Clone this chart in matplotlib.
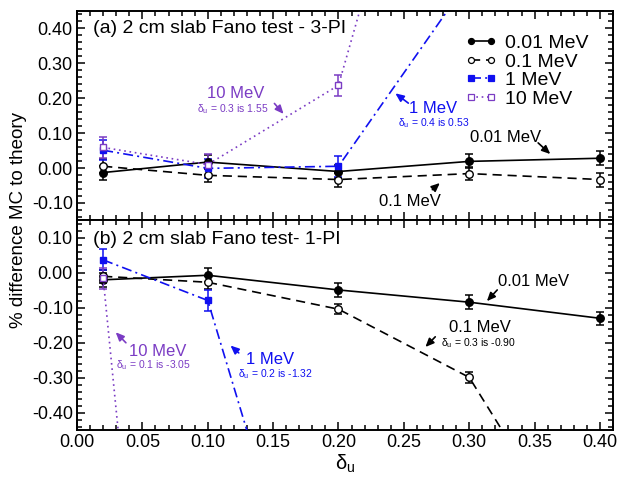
import matplotlib
matplotlib.use("Agg")
import matplotlib.pyplot as plt
from matplotlib.lines import Line2D
from matplotlib.ticker import MultipleLocator, FormatStrFormatter

plt.rcParams['font.family'] = ['Liberation Sans', 'DejaVu Sans']
plt.rcParams['mathtext.fontset'] = 'custom'
plt.rcParams['mathtext.rm'] = 'Liberation Sans'
plt.rcParams['mathtext.it'] = 'Liberation Sans'

# ---- data -------------------------------------------------------------
delta_u = [0.02, 0.10, 0.20, 0.30, 0.40]
energy_labels = ["0.01 MeV", "0.1 MeV", "1 MeV", "10 MeV"]

# (a) 3-PI
pi3_001 = [-0.013, 0.017, -0.010, 0.019, 0.028]
pi3_001_err = [0.020, 0.020, 0.020, 0.020, 0.020]
pi3_01 = [0.005, -0.021, -0.033, -0.016, -0.033]
pi3_01_err = [0.020, 0.020, 0.020, 0.018, 0.020]
pi3_1 = [0.051, -0.001, 0.005, 0.54, 0.53]
pi3_1_err = [0.028, 0.028, 0.030, 0.030, 0.030]
pi3_10_x = [0.02, 0.10, 0.20, 0.30]
pi3_10 = [0.059, 0.010, 0.237, 1.55]
pi3_10_err = [0.030, 0.030, 0.030, 0.030]

# (b) 1-PI
pi1_001 = [-0.020, -0.007, -0.049, -0.084, -0.130]
pi1_001_err = [0.020, 0.020, 0.020, 0.020, 0.018]
pi1_01 = [-0.010, -0.027, -0.104, -0.299, -0.90]
pi1_01_err = [0.018, 0.018, 0.015, 0.015, 0.015]
pi1_1_x = [0.02, 0.10, 0.20]
pi1_1 = [0.037, -0.079, -1.32]
pi1_1_err = [0.030, 0.030, 0.030]
pi1_10_x = [0.02, 0.10]
pi1_10 = [-0.015, -3.05]
pi1_10_err = [0.030, 0.030]

BLUE = '#1010f0'
PURPLE = '#7b3cc4'

styles = [
    dict(color='black', ls='-', marker='o', mfc='black', ms=5.4),
    dict(color='black', ls=(0, (5.5, 3.5)), marker='o', mfc='white', ms=5.4),
    dict(color=BLUE, ls=(0, (6, 2.5, 1.2, 2.5)), marker='s', mfc=BLUE, ms=4.6),
    dict(color=PURPLE, ls=(0, (1, 2.2)), marker='s', mfc='white', ms=4.4),
]

fig = plt.figure(figsize=(6.19, 4.78), dpi=100)
ax_a = fig.add_axes([0.1244, 0.539, 0.866, 0.438])
ax_b = fig.add_axes([0.1244, 0.100, 0.866, 0.439])


def draw_series(ax, x, y, err, st):
    ax.errorbar(x, y, yerr=err, fmt='none', ecolor=st['color'], elinewidth=1.1,
                capsize=3, capthick=1.1, zorder=2)
    ax.plot(x, y, color=st['color'], ls=st['ls'], lw=1.2, marker=st['marker'],
            mfc=st['mfc'], mec=st['color'], mew=1.0, ms=st['ms'], zorder=3)


series_a = [(delta_u, pi3_001, pi3_001_err), (delta_u, pi3_01, pi3_01_err),
            (delta_u, pi3_1, pi3_1_err), (pi3_10_x, pi3_10, pi3_10_err)]
series_b = [(delta_u, pi1_001, pi1_001_err), (delta_u, pi1_01, pi1_01_err),
            (pi1_1_x, pi1_1, pi1_1_err), (pi1_10_x, pi1_10, pi1_10_err)]

for (x, y, e), st in zip(series_a, styles):
    draw_series(ax_a, x, y, e, st)
for (x, y, e), st in zip(series_b, styles):
    draw_series(ax_b, x, y, e, st)

ax_a.set_ylim(-0.15, 0.45)
ax_b.set_ylim(-0.45, 0.15)

for ax in (ax_a, ax_b):
    ax.set_xlim(0.0, 0.41)
    ax.xaxis.set_major_locator(MultipleLocator(0.05))
    ax.xaxis.set_minor_locator(MultipleLocator(0.01))
    ax.yaxis.set_major_locator(MultipleLocator(0.10))
    ax.yaxis.set_minor_locator(MultipleLocator(0.02))
    ax.yaxis.set_major_formatter(FormatStrFormatter('%.2f'))
    ax.xaxis.set_major_formatter(FormatStrFormatter('%.2f'))
    ax.tick_params(which='both', direction='in', top=True, right=True,
                   labelsize=13, width=1.1, pad=3)
    ax.tick_params(which='major', length=6)
    ax.tick_params(which='minor', length=3.5)
    for sp in ax.spines.values():
        sp.set_linewidth(1.4)

ax_a.tick_params(labelbottom=False)
ax_a.set_yticks([-0.1, 0.0, 0.1, 0.2, 0.3, 0.4])
ax_b.set_yticks([-0.4, -0.3, -0.2, -0.1, 0.0, 0.1])

# panel titles
ax_a.text(0.012, 0.40, "(a) 2 cm slab Fano test - 3-PI", fontsize=14,
          ha='left', va='center')
ax_b.text(0.012, 0.094, "(b) 2 cm slab Fano test- 1-PI", fontsize=14,
          ha='left', va='center')

# legend
handles = [Line2D([], [], color=st['color'], ls=st['ls'], lw=1.2,
                  marker=st['marker'], mfc=st['mfc'], mec=st['color'],
                  ms=4.3, mew=0.9) for st in styles]
ax_a.legend(handles, energy_labels, loc='upper left',
            bbox_to_anchor=(0.725, 0.888), frameon=False, fontsize=14,
            numpoints=2, handlelength=1.6, handletextpad=0.4,
            labelspacing=0.05, borderpad=0, borderaxespad=0)

arrow_kw = dict(arrowstyle='-|>,head_length=0.5,head_width=0.22', lw=1.2,
                shrinkA=0, shrinkB=0)


def note(ax, text, xy, sub, sub_xy, color, tail, tip):
    ax.text(*xy, text, fontsize=12, color=color, ha='center', va='center')
    if sub:
        ax.text(*sub_xy, sub, fontsize=7.5, color=color, ha='center',
                va='center')
    ax.annotate('', xy=tip, xytext=tail,
                arrowprops=dict(color=color, **arrow_kw))


# (a) annotations
note(ax_a, "10 MeV", (0.121, 0.214), r"δ$_\mathrm{u}$ = 0.3 is 1.55",
     (0.119, 0.168), PURPLE, (0.151, 0.185), (0.158, 0.155))
note(ax_a, "1 MeV", (0.2725, 0.171), r"δ$_\mathrm{u}$ = 0.4 is 0.53",
     (0.2725, 0.128), BLUE, (0.2534, 0.186), (0.2435, 0.214))
note(ax_a, "0.01 MeV", (0.3275, 0.087), None, None, 'black',
     (0.3527, 0.072), (0.3620, 0.040))
note(ax_a, "0.1 MeV", (0.255, -0.096), None, None, 'black',
     (0.2718, -0.062), (0.2775, -0.043))

# (b) annotations
note(ax_b, "10 MeV", (0.0618, -0.226), r"δ$_\mathrm{u}$ = 0.1 is -3.05",
     (0.0588, -0.263), PURPLE, (0.0374, -0.200), (0.0296, -0.170))
note(ax_b, "1 MeV", (0.148, -0.249), r"δ$_\mathrm{u}$ = 0.2 is -1.32",
     (0.152, -0.291), BLUE, (0.1237, -0.229), (0.1174, -0.208))
note(ax_b, "0.01 MeV", (0.349, -0.026), None, None, 'black',
     (0.3214, -0.049), (0.3135, -0.081))
note(ax_b, "0.1 MeV", (0.3084, -0.157), r"δ$_\mathrm{u}$ = 0.3 is -0.90",
     (0.307, -0.200), 'black', (0.274, -0.183), (0.2665, -0.212))

# axis titles
fig.text(19 / 619, 1 - 220 / 478, "% difference MC to theory", rotation=90,
         fontsize=13.5, ha='center', va='center')
fig.text(345 / 619, 1 - 453 / 478, r"δ$_\mathrm{u}$", fontsize=14.5,
         ha='center', va='top')

fig.savefig("out.png", dpi=100)
